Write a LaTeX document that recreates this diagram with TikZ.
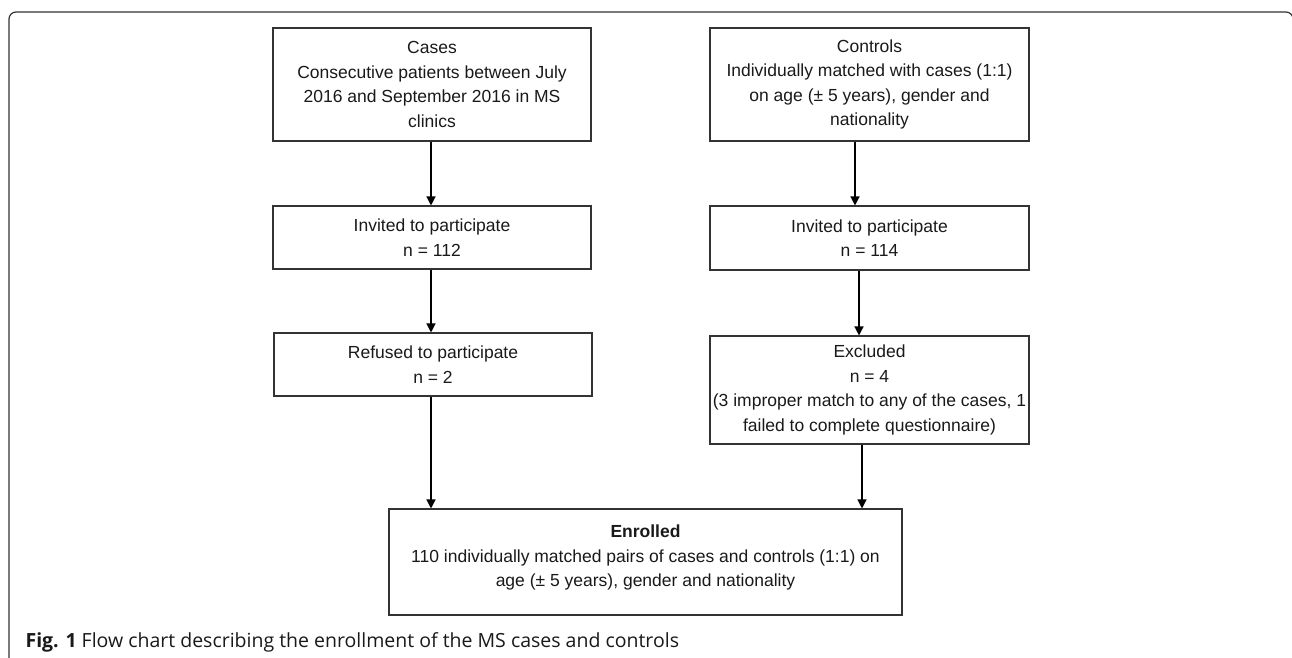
\documentclass[tikz,border=0pt]{standalone}
\usepackage{fontspec}
\setmainfont{Liberation Sans}
\newfontfamily\capfont{Open Sans}
\usetikzlibrary{arrows.meta}
\begin{document}
\begin{tikzpicture}
[x=1pt, y=-1pt,
 nodes={draw=black!80, line width=1.1pt, align=center, inner sep=0pt, text=black!90,
        font=\fontsize{17.5}{24.5}\selectfont},
 >={Triangle[length=9pt,width=9pt]}, line width=1.3pt]
\useasboundingbox (0,0) rectangle (1292,657);
\draw[line width=1.2pt, rounded corners=7pt, black!80] (9,680) -- (9,12) -- (1293,12) -- (1293,680);
\node[minimum width=318pt, minimum height=113pt] (cases) at (432,84.5) {Cases\\Consecutive patients between July\\2016 and September 2016 in MS\\clinics};
\node[minimum width=319pt, minimum height=113pt] (controls) at (869.5,84.5) {Controls\\Individually matched with cases (1:1)\\on age (± 5 years), gender and\\nationality};
\node[minimum width=318pt, minimum height=63pt] (invitedA) at (432,237.5) {Invited to participate\\n = 112};
\node[minimum width=319pt, minimum height=64pt] (invitedB) at (869.5,238) {Invited to participate\\n = 114};
\node[minimum width=318pt, minimum height=63pt] (refused) at (433,364.5) {Refused to participate\\n = 2};
\node[minimum width=319pt, minimum height=108pt] (excluded) at (869.5,390) {Excluded\\n = 4\\(3 improper match to any of the cases, 1\\failed to complete questionnaire)};
\node[minimum width=513pt, minimum height=106pt] (enrolled) at (645.5,562) {\textbf{Enrolled}\\110 individually matched pairs of cases and controls (1:1) on\\age (± 5 years), gender and nationality\\[-12pt]\mbox{}};
\node[draw=none, anchor=base west, font=\capfont\fontsize{19.5}{23}\selectfont] (caption) at (25,647) {\textbf{Fig. 1} Flow chart describing the enrollment of the MS cases and controls};
\draw[->] (cases.south -| 431,0) -- (invitedA.north -| 431,0);
\draw[->] (invitedA.south -| 431,0) -- (refused.north -| 431,0);
\draw[->] (refused.south -| 431,0) -- (enrolled.north -| 431,0);
\draw[->] (controls.south -| 855,0) -- (invitedB.north -| 855,0);
\draw[->] (invitedB.south -| 859,0) -- (excluded.north -| 859,0);
\draw[->] (excluded.south -| 862,0) -- (enrolled.north -| 862,0);
\end{tikzpicture}
\end{document}
